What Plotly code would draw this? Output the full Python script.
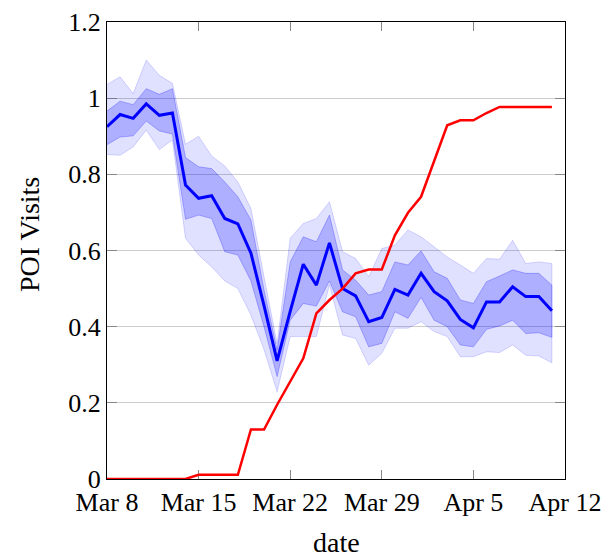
import pandas as pd
import plotly.graph_objects as go

dates = pd.date_range("2020-03-08", "2020-04-11", freq="D")

poi_mean = [0.925, 0.957, 0.947, 0.985, 0.955, 0.961, 0.772, 0.737, 0.744, 0.684,
            0.670, 0.593, 0.455, 0.310, 0.440, 0.564, 0.509, 0.620, 0.500, 0.481,
            0.413, 0.424, 0.498, 0.483, 0.540, 0.492, 0.468, 0.419, 0.397, 0.465,
            0.465, 0.505, 0.479, 0.479, 0.442]
inner_upper = [0.966, 0.992, 0.983, 1.025, 1.010, 1.025, 0.844, 0.820, 0.815, 0.780,
               0.741, 0.680, 0.496, 0.339, 0.570, 0.636, 0.623, 0.693, 0.549, 0.522,
               0.483, 0.492, 0.570, 0.562, 0.599, 0.544, 0.527, 0.470, 0.461, 0.518,
               0.533, 0.549, 0.540, 0.540, 0.509]
inner_lower = [0.878, 0.898, 0.901, 0.940, 0.914, 0.906, 0.682, 0.693, 0.684, 0.597,
               0.588, 0.520, 0.400, 0.269, 0.417, 0.461, 0.454, 0.520, 0.439, 0.426,
               0.347, 0.356, 0.439, 0.422, 0.477, 0.417, 0.400, 0.352, 0.347, 0.393,
               0.402, 0.417, 0.382, 0.384, 0.372]
outer_upper = [1.036, 1.056, 1.012, 1.100, 1.060, 1.039, 0.879, 0.900, 0.848, 0.822,
               0.780, 0.710, 0.531, 0.355, 0.632, 0.671, 0.684, 0.728, 0.597, 0.579,
               0.531, 0.605, 0.614, 0.654, 0.636, 0.610, 0.583, 0.562, 0.540, 0.579,
               0.577, 0.627, 0.566, 0.570, 0.566]
outer_lower = [0.852, 0.850, 0.872, 0.916, 0.865, 0.890, 0.632, 0.588, 0.557, 0.520,
               0.500, 0.430, 0.340, 0.229, 0.374, 0.374, 0.374, 0.510, 0.378, 0.369,
               0.299, 0.330, 0.396, 0.396, 0.413, 0.387, 0.374, 0.321, 0.321, 0.334,
               0.332, 0.352, 0.325, 0.323, 0.305]
red_series = [0.0, 0.0, 0.0, 0.0, 0.0, 0.0, 0.0, 0.011, 0.011, 0.011,
              0.011, 0.130, 0.130, 0.195, 0.255, 0.317, 0.435, 0.470, 0.500, 0.540,
              0.550, 0.550, 0.640, 0.699, 0.741, 0.833, 0.929, 0.942, 0.942, 0.961,
              0.977, 0.977, 0.977, 0.977, 0.977]

tick_dates = ["2020-03-08", "2020-03-15", "2020-03-22", "2020-03-29", "2020-04-05", "2020-04-12"]
tick_labels = ["Mar 8", "Mar 15", "Mar 22", "Mar 29", "Apr 5", "Apr 12"]
y_ticks = [0, 0.2, 0.4, 0.6, 0.8, 1.0, 1.2]
y_labels = ["0", "0.2", "0.4", "0.6", "0.8", "1", "1.2"]

FONT = "Liberation Serif"
xs = list(dates)

fig = go.Figure()
fig.add_trace(go.Scatter(
    x=xs + xs[::-1], y=outer_upper + outer_lower[::-1], fill="toself",
    fillcolor="rgba(0,0,255,0.12)", line=dict(color="rgba(0,0,255,0.15)", width=1),
    mode="lines", hoverinfo="skip", showlegend=False))
fig.add_trace(go.Scatter(
    x=xs + xs[::-1], y=inner_upper + inner_lower[::-1], fill="toself",
    fillcolor="rgba(0,0,255,0.22)", line=dict(color="rgba(0,0,255,0.25)", width=1),
    mode="lines", hoverinfo="skip", showlegend=False))
fig.add_trace(go.Scatter(x=xs, y=poi_mean, mode="lines",
                         line=dict(color="rgb(0,0,255)", width=3), showlegend=False))
fig.add_trace(go.Scatter(x=xs, y=red_series, mode="lines", cliponaxis=False,
                         line=dict(color="rgb(255,0,0)", width=2.5), showlegend=False))

fig.update_layout(
    width=604, height=558,
    margin=dict(l=107, r=39, t=22, b=79, autoexpand=False),
    paper_bgcolor="white", plot_bgcolor="white",
    font=dict(family=FONT, size=26, color="black"),
    showlegend=False,
    xaxis=dict(
        type="date", range=["2020-03-08", "2020-04-12"],
        tickvals=tick_dates, ticktext=tick_labels, automargin=False,
        showgrid=False, zeroline=False,
        showline=True, linecolor="black", linewidth=1, mirror="ticks",
        ticks="inside", ticklen=9, tickcolor="#888888", tickwidth=1,
        tickfont=dict(family=FONT, size=26), layer="below traces",
    ),
    yaxis=dict(
        range=[0, 1.2], tickvals=y_ticks, ticktext=y_labels, automargin=False,
        showgrid=True, gridcolor="#cccccc", gridwidth=1, zeroline=False,
        showline=True, linecolor="black", linewidth=1, mirror="ticks",
        ticks="inside", ticklen=10, tickcolor="#888888", tickwidth=1,
        tickfont=dict(family=FONT, size=26), layer="below traces",
    ),
    annotations=[
        dict(text="POI Visits", xref="paper", yref="paper", x=-0.168, y=0.534,
             textangle=-90, showarrow=False, xanchor="center", yanchor="middle",
             font=dict(family=FONT, size=28)),
        dict(text="date", xref="paper", yref="paper", x=0.5, y=-0.140,
             showarrow=False, xanchor="center", yanchor="middle",
             font=dict(family=FONT, size=28)),
    ],
)

fig.write_html("out.html")
